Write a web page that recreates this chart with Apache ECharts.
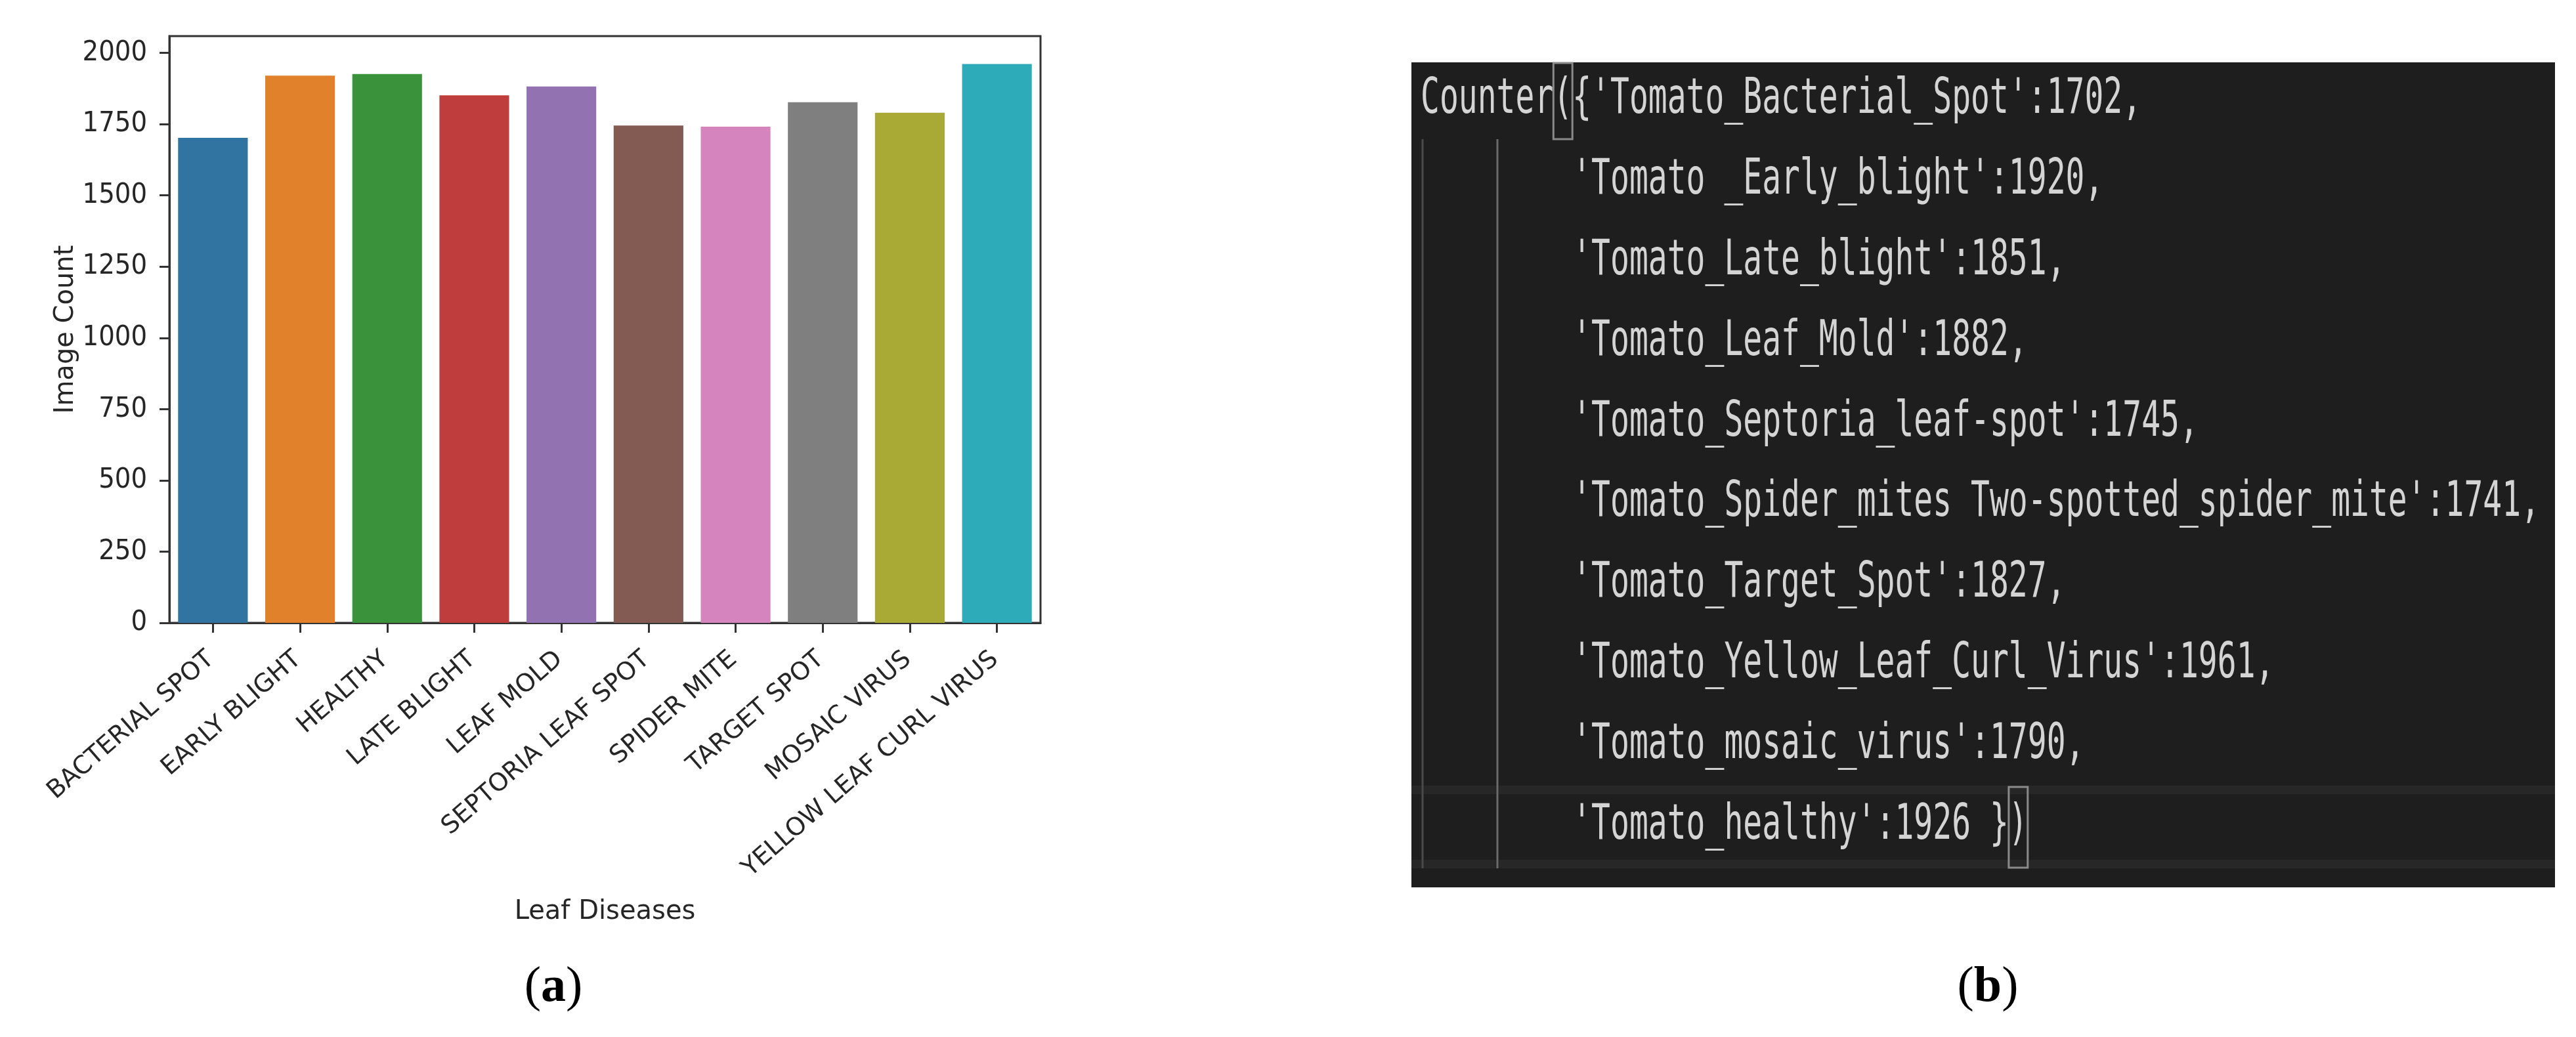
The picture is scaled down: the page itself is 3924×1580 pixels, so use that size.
<!DOCTYPE html>
<html lang="en">
<head>
  <meta charset="UTF-8">
  <title>Leaf Diseases</title>
  <style>
    html, body { margin: 0; padding: 0; background: #fff; }
    #myChart { width: 3924px; height: 1580px; }
  </style>
</head>
<body>
  <div id="myChart"></div>
  <script src="https://cdn.jsdelivr.net/npm/echarts@6/dist/echarts.min.js"></script>
  <script>
    // (a) bar chart data
    const categories = ['BACTERIAL SPOT', 'EARLY BLIGHT', 'HEALTHY', 'LATE BLIGHT', 'LEAF MOLD',
      'SEPTORIA LEAF SPOT', 'SPIDER MITE', 'TARGET SPOT', 'MOSAIC VIRUS', 'YELLOW LEAF CURL VIRUS'];
    const imageCounts = [1702, 1920, 1926, 1851, 1882, 1745, 1741, 1827, 1790, 1961];
    const yTicks = [0, 250, 500, 750, 1000, 1250, 1500, 1750, 2000];
    const yMax = 2059;
    const barColors = ['#3274a1', '#e1812c', '#3a923a', '#c03d3e', '#9372b2',
      '#845b53', '#d684bd', '#7f7f7f', '#a9aa35', '#2eabb8'];

    // (b) code panel text
    const codeLines = [
      "Counter({'Tomato_Bacterial_Spot':1702,",
      "        'Tomato _Early_blight':1920,",
      "        'Tomato_Late_blight':1851,",
      "        'Tomato_Leaf_Mold':1882,",
      "        'Tomato_Septoria_leaf-spot':1745,",
      "        'Tomato_Spider_mites Two-spotted_spider_mite':1741,",
      "        'Tomato_Target_Spot':1827,",
      "        'Tomato_Yellow_Leaf_Curl_Virus':1961,",
      "        'Tomato_mosaic_virus':1790,",
      "        'Tomato_healthy':1926 })"
    ];

    const ink = '#262626';
    const frame = '#333';
    const narrow = "'DejaVu Sans Condensed', 'DejaVu Sans'";

    // code panel geometry
    const panel = { x: 2150, y: 95, w: 1742, h: 1257 };
    const codeX = 2164;
    const colW = 28.9;
    const lineH = 122.9;
    const firstMid = 152.5;

    const graphics = [
      { type: 'rect', z: 1, shape: { x: panel.x, y: panel.y, width: panel.w, height: panel.h },
        style: { fill: '#1e1e1e' } },
      // current line highlight (top and bottom bands)
      { type: 'rect', z: 2, shape: { x: panel.x, y: 1197, width: panel.w, height: 13 },
        style: { fill: '#272727' } },
      { type: 'rect', z: 2, shape: { x: panel.x, y: 1310, width: panel.w, height: 13 },
        style: { fill: '#272727' } },
      // indent guides
      { type: 'line', z: 3, shape: { x1: 2167, y1: 212, x2: 2167, y2: 1323 },
        style: { stroke: '#4a4a4a', lineWidth: 3 } },
      { type: 'line', z: 3, shape: { x1: 2281, y1: 212, x2: 2281, y2: 1323 },
        style: { stroke: '#6a6a6a', lineWidth: 3 } },
      // bracket match boxes
      { type: 'rect', z: 3, shape: { x: codeX + 7 * colW, y: 96, width: colW, height: 116 },
        style: { fill: 'none', stroke: '#8a8a8a', lineWidth: 3 } },
      { type: 'rect', z: 3, shape: { x: codeX + 31 * colW, y: 1199, width: colW, height: 123 },
        style: { fill: 'none', stroke: '#8a8a8a', lineWidth: 3 } }
    ];

    codeLines.forEach((line, i) => {
      graphics.push({
        type: 'text', z: 4,
        x: codeX, y: firstMid + i * lineH,
        scaleX: 0.64,
        style: {
          text: line, fill: '#d4d4d4',
          fontFamily: 'DejaVu Sans Mono', fontSize: 75,
          align: 'left', verticalAlign: 'middle'
        }
      });
    });

    // panel captions
    const capStyle = (letter) => ({
      text: '{p|(}{b|' + letter + '}{p|)}',
      align: 'center', verticalAlign: 'middle',
      rich: {
        p: { fontFamily: 'Liberation Serif', fontSize: 76, fill: '#000' },
        b: { fontFamily: 'Liberation Serif', fontSize: 76, fontWeight: 'bold', fill: '#000' }
      }
    });
    graphics.push({ type: 'text', z: 4, x: 843, y: 1505, style: capStyle('a') });
    graphics.push({ type: 'text', z: 4, x: 3028, y: 1505, style: capStyle('b') });

    const myChart = echarts.init(document.getElementById('myChart'));
    const option = {
      backgroundColor: '#fff',
      animation: false,
      color: barColors,
      grid: {
        left: 258, top: 55, width: 1327, height: 894,
        show: true, borderColor: frame, borderWidth: 3,
        containLabel: false, outerBoundsMode: 'none'
      },
      xAxis: {
        type: 'category',
        data: categories,
        name: 'Leaf Diseases',
        nameLocation: 'middle',
        nameGap: 421,
        nameTextStyle: { fontFamily: 'DejaVu Sans', fontSize: 40, color: ink },
        axisLine: { show: true, lineStyle: { color: frame, width: 3 } },
        axisTick: { show: true, alignWithLabel: true, length: 15, lineStyle: { color: frame, width: 3 } },
        axisLabel: {
          interval: 0, rotate: 41, margin: 48, padding: [0, 4, 0, 0],
          fontFamily: 'DejaVu Sans', fontSize: 38, color: ink
        },
        splitLine: { show: false }
      },
      yAxis: {
        type: 'value',
        min: 0, max: yMax, interval: 250,
        name: 'Image Count',
        nameLocation: 'middle',
        nameGap: 137,
        nameTextStyle: { fontFamily: 'DejaVu Sans', fontSize: 40, color: ink },
        axisLine: { show: true, lineStyle: { color: frame, width: 3 } },
        axisTick: { show: true, length: 15, customValues: yTicks, lineStyle: { color: frame, width: 3 } },
        axisLabel: {
          margin: 34, customValues: yTicks,
          formatter: (v) => String(v),
          fontFamily: narrow, fontSize: 43, color: ink
        },
        splitLine: { show: false }
      },
      series: [{
        type: 'bar',
        data: imageCounts,
        colorBy: 'data',
        barCategoryGap: '20%',
        itemStyle: { borderWidth: 0 }
      }],
      graphic: graphics
    };
    myChart.setOption(option);
  </script>
</body>
</html>
